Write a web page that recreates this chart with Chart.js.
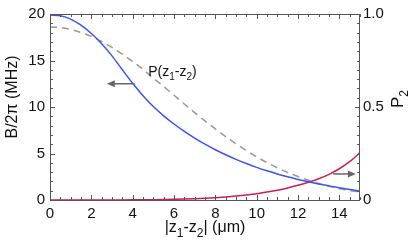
<!DOCTYPE html>
<html><head><meta charset="utf-8">
<script src="https://cdn.jsdelivr.net/npm/chart.js@4.4.1/dist/chart.umd.min.js"></script>
<style>html,body{margin:0;padding:0;background:#fff}#wrap{width:415px;height:241px}</style>
</head><body><div id="wrap"><canvas id="c" width="415" height="241"></canvas></div>
<script>
const xs = [0,0.5,1,1.5,2,2.5,3,3.5,4,4.5,5,5.5,6,6.5,7,7.5,8,8.5,9,9.5,10,10.5,11,11.5,12,12.5,13,13.5,14,14.5,15];
const bField = [19.9,19.8,19.45,18.8,17.9,16.8,15.5,14.0,12.55,11.22,10.05,9.05,8.17,7.38,6.66,6.0,5.4,4.86,4.37,3.92,3.51,3.14,2.8,2.49,2.21,1.96,1.73,1.52,1.32,1.13,0.95];
const pDist = [0.93,0.927,0.917,0.9,0.88,0.852,0.82,0.784,0.745,0.702,0.655,0.61,0.563,0.516,0.47,0.425,0.382,0.341,0.302,0.266,0.232,0.201,0.173,0.148,0.126,0.106,0.089,0.074,0.061,0.051,0.042];
const p2 = [0,0,0,0,0.0001,0.0002,0.0003,0.0005,0.0008,0.0012,0.0018,0.0026,0.0036,0.005,0.0068,0.009,0.012,0.016,0.021,0.027,0.034,0.043,0.053,0.065,0.079,0.095,0.114,0.138,0.168,0.206,0.255];
const xTicks = [0,2,4,6,8,10,12,14];
const yTicks = [0,5,10,15,20];
const y2Ticks = [0,0.5,1.0];
const xMinorStep = 0.5, yMinorStep = 1, y2MinorStep = 0.05;
// annotations in data coordinates
const leftArrow = {x1:4.1, x2:2.75, y:12.5};
const rightArrow = {x1:13.7, x2:14.8, y:0.14};
const pLabel = {x:4.75, y:13.9};

const FONT = '"Liberation Sans", Arial, sans-serif';
const pts = arr => xs.map((x,i)=>({x, y:arr[i]}));

function richText(ctx, segs, x, y, align, size){
  ctx.save();
  let w = 0;
  segs.forEach(s=>{ctx.font=(s.sub?Math.round(size*0.72):size)+'px '+FONT; s.w=ctx.measureText(s.t).width; w+=s.w;});
  let cx = align==='center' ? x - w/2 : x;
  ctx.textBaseline='alphabetic'; ctx.textAlign='left'; ctx.fillStyle='#111';
  segs.forEach(s=>{ctx.font=(s.sub?Math.round(size*0.72):size)+'px '+FONT; ctx.fillText(s.t, cx, y + (s.sub? size*0.3:0)); cx+=s.w;});
  ctx.restore();
}
function arrow(ctx, xa, xb, y){
  ctx.save(); ctx.strokeStyle='#666'; ctx.fillStyle='#666'; ctx.lineWidth=1.5;
  const dir = Math.sign(xb-xa);
  ctx.beginPath(); ctx.moveTo(xa,y); ctx.lineTo(xb - dir*6,y); ctx.stroke();
  ctx.beginPath(); ctx.moveTo(xb,y); ctx.lineTo(xb-dir*8,y-3.5); ctx.lineTo(xb-dir*8,y+3.5); ctx.closePath(); ctx.fill();
  ctx.restore();
}
function tickMarks(ctx, a, sx, sy, sy2){
  ctx.save();
  ctx.fillStyle='#555';
  const nx = Math.round((sx.max - sx.min)/xMinorStep);
  for(let k=0; k<=nx; k++){
    const v = sx.min + k*xMinorStep;
    const px = Math.round(sx.getPixelForValue(v));
    const L = xTicks.includes(v) ? 5 : 3;
    ctx.fillRect(px, a.bottom - L, 1, L);
    ctx.fillRect(px, a.top, 1, L);
  }
  const ny = Math.round((sy.max - sy.min)/yMinorStep);
  for(let k=0; k<=ny; k++){
    const v = sy.min + k*yMinorStep;
    const py = Math.round(sy.getPixelForValue(v));
    const L = yTicks.includes(v) ? 5 : 3;
    ctx.fillRect(a.left, py, L, 1);
  }
  const ny2 = Math.round((sy2.max - sy2.min)/y2MinorStep);
  for(let k=0; k<=ny2; k++){
    const py = Math.round(sy2.getPixelForValue(sy2.min + k*y2MinorStep));
    const L = (k%10===0) ? 5 : 3;
    ctx.fillRect(a.right - L, py, L, 1);
  }
  ctx.restore();
}

const deco = {
  id:'deco',
  afterDraw(chart){
    const ctx = chart.ctx, a = chart.chartArea;
    const sx = chart.scales.x, sy = chart.scales.y, sy2 = chart.scales.y2;
    ctx.save();
    ctx.strokeStyle='#555'; ctx.lineWidth=1;
    ctx.strokeRect(a.left+0.5, a.top+0.5, a.right-a.left-1, a.bottom-a.top);
    ctx.restore();
    tickMarks(ctx, a, sx, sy, sy2);
    arrow(ctx, sx.getPixelForValue(leftArrow.x1), sx.getPixelForValue(leftArrow.x2), sy.getPixelForValue(leftArrow.y));
    arrow(ctx, sx.getPixelForValue(rightArrow.x1), sx.getPixelForValue(rightArrow.x2), sy2.getPixelForValue(rightArrow.y));
    richText(ctx, [{t:'P(z'},{t:'1',sub:true},{t:'-z'},{t:'2',sub:true},{t:')'}], sx.getPixelForValue(pLabel.x), sy.getPixelForValue(pLabel.y)+5, 'left', 14);
    richText(ctx, [{t:'|z'},{t:'1',sub:true},{t:'-z'},{t:'2',sub:true},{t:'| (\u03bcm)'}], 205, 232, 'center', 16);
    ctx.save(); ctx.translate(17, 97); ctx.rotate(-Math.PI/2);
    richText(ctx, [{t:'B/2\u03c0 (MHz)'}], 0, 0, 'center', 16);
    ctx.restore();
    ctx.save(); ctx.translate(403, 99); ctx.rotate(-Math.PI/2);
    richText(ctx, [{t:'P'},{t:'2',sub:true}], 0, 0, 'center', 17);
    ctx.restore();
  }
};

new Chart(document.getElementById('c'), {
  type:'line',
  data:{datasets:[
    {data:pts(bField), yAxisID:'y', borderColor:'#3a55f0', borderWidth:1.5, pointRadius:0, cubicInterpolationMode:'monotone', fill:false},
    {data:pts(pDist), yAxisID:'y2', borderColor:'#999999', borderWidth:1.5, borderDash:[7,5], pointRadius:0, cubicInterpolationMode:'monotone', fill:false},
    {data:pts(p2), yAxisID:'y2', borderColor:'#d1195e', borderWidth:1.5, pointRadius:0, cubicInterpolationMode:'monotone', fill:false}
  ]},
  options:{
    responsive:false, animation:false, events:[],
    layout:{padding:{top:10,left:0,right:0,bottom:0}},
    plugins:{legend:{display:false}, tooltip:{enabled:false}},
    scales:{
      x:{type:'linear', min:0, max:15, grid:{display:false, drawTicks:false}, border:{display:false},
         afterBuildTicks:s=>{s.ticks = xTicks.map(v=>({value:v}));},
         afterFit:s=>{s.height=41;},
         ticks:{padding:5, color:'#111', font:{family:FONT, size:15}, maxRotation:0, autoSkip:false}},
      y:{position:'left', min:0, max:20, grid:{display:false, drawTicks:false}, border:{display:false},
         afterBuildTicks:s=>{s.ticks = yTicks.map(v=>({value:v}));},
         afterFit:s=>{s.width=50;},
         ticks:{padding:5, color:'#111', font:{family:FONT, size:15}}},
      y2:{position:'right', min:0, max:1, grid:{display:false, drawTicks:false}, border:{display:false},
         afterBuildTicks:s=>{s.ticks = y2Ticks.map(v=>({value:v}));},
         afterFit:s=>{s.width=55;},
         ticks:{padding:3, color:'#111', font:{family:FONT, size:15}, callback:v=> v===0?'0':v.toFixed(1)}}
    }
  },
  plugins:[deco]
});
</script></body></html>
